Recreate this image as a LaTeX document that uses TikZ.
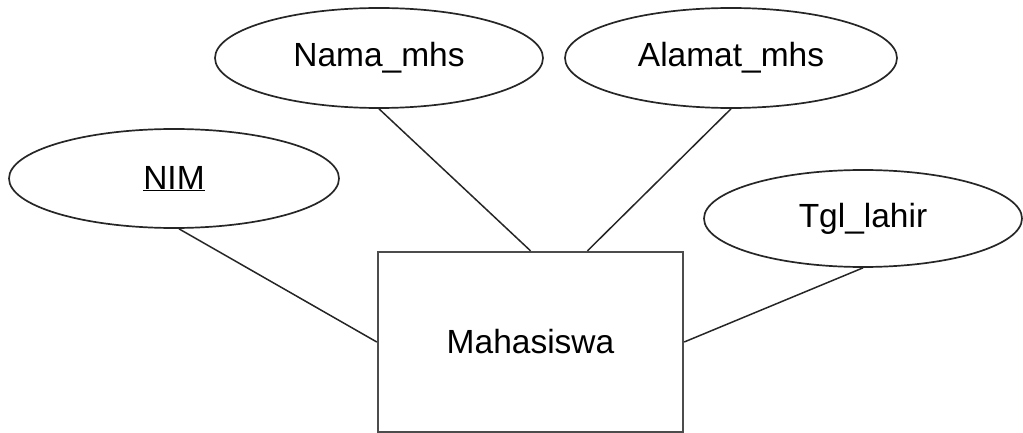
\documentclass[tikz,border=0pt]{standalone}
\usepackage{fontspec}
\setmainfont{Liberation Sans}
\usetikzlibrary{shapes.geometric,calc}
\begin{document}
\begin{tikzpicture}[x=1pt,y=-1pt,
  attr/.style={draw=black!85,line width=1.7pt,ellipse,inner sep=0pt,font=\fontsize{33.5}{36}\selectfont},
  ent/.style={draw=black!70,line width=2.4pt,rectangle,inner sep=0pt,font=\fontsize{33.5}{36}\selectfont},
  conn/.style={draw=black!85,line width=1.5pt}]
\useasboundingbox (0,0) rectangle (1023,433);
\node[ent,minimum width=305pt,minimum height=180pt] (m) at (530.5,342) {Mahasiswa};
\node[attr,minimum width=330pt,minimum height=99pt] (nim) at (174,178.5) {\underline{NIM}};
\node[attr,minimum width=328pt,minimum height=100pt] (nama) at (379,58) {Nama\_mhs};
\node[attr,minimum width=332pt,minimum height=100pt] (alamat) at (731,58) {Alamat\_mhs};
\node[attr,minimum width=318pt,minimum height=97pt] (tgl) at (863,218.5) {Tgl\_lahir};
\coordinate (mtop2) at ($(m.north)+(57,0)$);
\draw[conn] (nim.south) ++(5,0) -- (m.west);
\draw[conn] (nama.south) -- (m.north);
\draw[conn] (alamat.south) -- (mtop2);
\draw[conn] (tgl.south) -- (m.east);
\end{tikzpicture}
\end{document}
